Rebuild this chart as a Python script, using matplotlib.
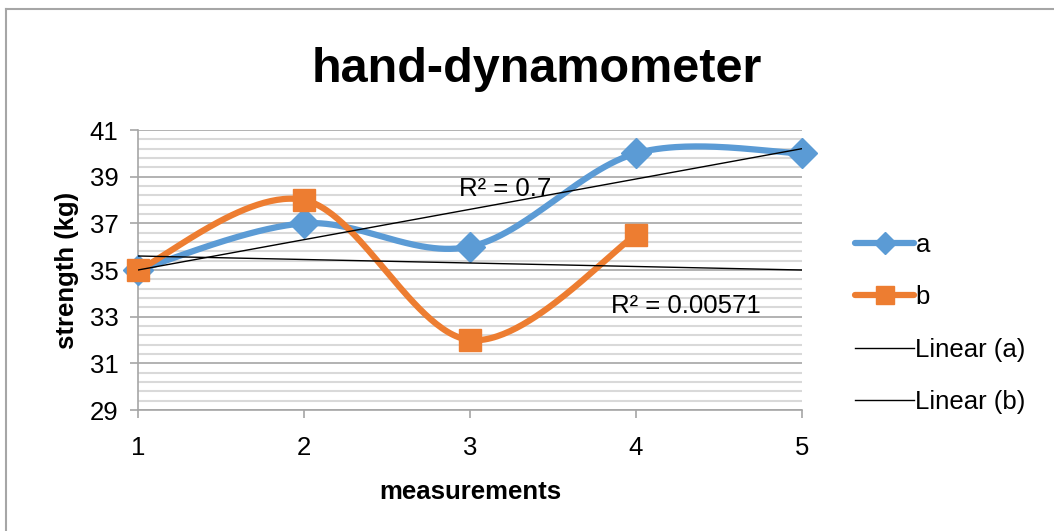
import numpy as np
import matplotlib
matplotlib.use("Agg")
import matplotlib.pyplot as plt
from matplotlib.lines import Line2D

plt.rcParams['font.family'] = ['Liberation Sans', 'DejaVu Sans']

# ---- data ----
x_a = [1, 2, 3, 4, 5]
a_vals = [35, 37, 36, 40, 40]
x_b = [1, 2, 3, 4]
b_vals = [35, 38, 32, 36.5]
r2_a_label = "R² = 0.7"
r2_b_label = "R² = 0.00571"
x_ticks = [1, 2, 3, 4, 5]
y_ticks = [29, 31, 33, 35, 37, 39, 41]

BLUE = '#5B9BD5'
ORANGE = '#ED7D31'


def smooth(xs, ys, n=60):
    """Excel-like smoothed line (Catmull-Rom style cubic Bezier)."""
    P = np.column_stack([xs, ys]).astype(float)
    m = len(P)
    out = []
    for i in range(m - 1):
        p0 = P[i - 1] if i > 0 else P[i]
        p1 = P[i]
        p2 = P[i + 1]
        p3 = P[i + 2] if i + 2 < m else P[i + 1]
        c1 = p1 + (p2 - p0) / 6.0
        c2 = p2 - (p3 - p1) / 6.0
        t = np.linspace(0, 1, n)[:, None]
        seg = ((1 - t) ** 3) * p1 + 3 * ((1 - t) ** 2) * t * c1 + 3 * (1 - t) * t ** 2 * c2 + t ** 3 * p2
        out.append(seg if i == 0 else seg[1:])
    s = np.vstack(out)
    return s[:, 0], s[:, 1]


fig = plt.figure(figsize=(10.54, 5.31), dpi=100)
ax = fig.add_axes([138 / 1054, 1 - 410 / 531, (802 - 138) / 1054, (410 - 130) / 531])

# gridlines
for v in np.arange(29, 41.01, 0.4):
    if abs(v - round(v)) < 1e-6 and int(round(v)) % 2 == 1:
        continue
    ax.axhline(v, color='#d9d9d9', lw=1.5, zorder=0)
for v in y_ticks:
    ax.axhline(v, color='#a6a6a6', lw=1.2, zorder=0.5)

# smoothed series
sx, sy = smooth(x_a, a_vals)
ax.plot(sx, sy, color=BLUE, lw=4.5, solid_capstyle='round', zorder=3, clip_on=False)
ax.plot(x_a, a_vals, ls='none', marker='D', ms=15, color=BLUE, zorder=4, clip_on=False)
sx, sy = smooth(x_b, b_vals)
ax.plot(sx, sy, color=ORANGE, lw=4.5, solid_capstyle='round', zorder=3, clip_on=False)
ax.plot(x_b, b_vals, ls='none', marker='s', ms=16, color=ORANGE, zorder=4, clip_on=False)

# linear trendlines
ka = np.polyfit(x_a, a_vals, 1)
kb = np.polyfit(x_b, b_vals, 1)
xt = np.array([1, 5])
ax.plot(xt, np.polyval(ka, xt), color='black', lw=1, zorder=5)
ax.plot(xt, np.polyval(kb, xt), color='black', lw=1, zorder=5)

ax.text(3.21, 38.45, r2_a_label, fontsize=18.5, ha='center', va='center', zorder=6)
ax.text(4.30, 33.46, r2_b_label, fontsize=18.5, ha='center', va='center', zorder=6)

ax.set_xlim(1, 5)
ax.set_ylim(29, 41)
ax.set_xticks(x_ticks)
ax.set_yticks(y_ticks)
ax.tick_params(axis='both', labelsize=18.5, color='#a6a6a6', length=6, width=1.2)
ax.tick_params(axis='y', pad=8)
ax.tick_params(axis='x', pad=13)
for s in ['top', 'right']:
    ax.spines[s].set_visible(False)
for s in ['left', 'bottom']:
    ax.spines[s].set_color('#a6a6a6')
    ax.spines[s].set_linewidth(1.2)
ax.set_facecolor('none')

ax.set_ylabel('strength (kg)', fontsize=18.5, fontweight='bold', labelpad=8)
ax.set_xlabel('measurements', fontsize=18.5, fontweight='bold', labelpad=14)

fig.text(537 / 1054, 1 - 70 / 531, 'hand-dynamometer', fontsize=35, fontweight='bold',
         ha='center', va='center')

handles = [
    Line2D([], [], color=BLUE, lw=4.5, marker='D', ms=11, solid_capstyle='round'),
    Line2D([], [], color=ORANGE, lw=4.5, marker='s', ms=13, solid_capstyle='round'),
    Line2D([], [], color='black', lw=1),
    Line2D([], [], color='black', lw=1),
]
fig.legend(handles, ['a', 'b', 'Linear (a)', 'Linear (b)'],
           loc='upper left', bbox_to_anchor=(855 / 1054, 1 - 233 / 531),
           frameon=False, fontsize=18.5, handlelength=2.3, handletextpad=0.05,
           labelspacing=1.1, borderaxespad=0, borderpad=0)

# outer chart border
fig.add_artist(Line2D([6 / 1054, 1], [1 - 9 / 531, 1 - 9 / 531], transform=fig.transFigure,
                      color='#a6a6a6', lw=1.5))
fig.add_artist(Line2D([6 / 1054, 6 / 1054], [0, 1 - 9 / 531], transform=fig.transFigure,
                      color='#a6a6a6', lw=1.5))

fig.savefig('out.png', dpi=100)
